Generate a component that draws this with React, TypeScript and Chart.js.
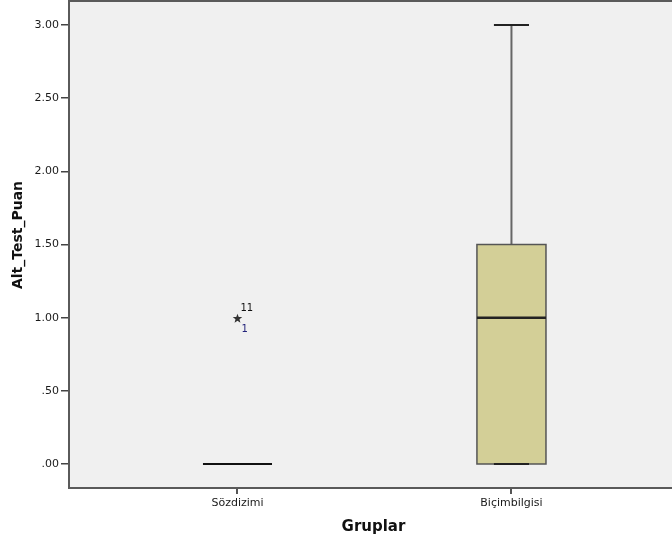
import React, { useEffect, useRef } from "react";
import { Chart, registerables } from "chart.js";

Chart.register(...registerables);

// ---- data ----
const categories = ["Sözdizimi", "Biçimbilgisi"];
const whiskerLow = [0, 0];
const q1 = [0, 0];
const median = [0, 1];
const q3 = [0, 1.5];
const whiskerHigh = [0, 3];
// extreme outliers: category index, value, case label
const outlierCat = [0, 0];
const outlierVal = [1, 1];
const outlierCase = ["11", "1"];
const yTicks = [0, 0.5, 1, 1.5, 2, 2.5, 3];
const yTitle = "Alt_Test_Puan";
const xTitle = "Gruplar";

const FONT = "'DejaVu Sans', 'Liberation Sans', sans-serif";

function fmt(v: number) {
  const s = v.toFixed(2);
  return s.startsWith("0.") ? s.slice(1) : s;
}

function drawStar(ctx: CanvasRenderingContext2D, cx: number, cy: number, r: number) {
  ctx.beginPath();
  for (let i = 0; i < 10; i++) {
    const rad = i % 2 === 0 ? r : r * 0.42;
    const a = -Math.PI / 2 + (i * Math.PI) / 5;
    const x = cx + rad * Math.cos(a);
    const y = cy + rad * Math.sin(a);
    if (i === 0) ctx.moveTo(x, y);
    else ctx.lineTo(x, y);
  }
  ctx.closePath();
  ctx.fill();
}

const boxPlugin = {
  id: "boxPlugin",
  beforeDatasetsDraw(chart: any) {
    const { ctx, chartArea } = chart;
    ctx.save();
    ctx.fillStyle = "#f0f0f0";
    ctx.fillRect(chartArea.left, chartArea.top, chartArea.right - chartArea.left, chartArea.bottom - chartArea.top);
    ctx.restore();
  },
  afterDatasetsDraw(chart: any) {
    const { ctx, chartArea } = chart;
    const xs = chart.scales.x;
    const ys = chart.scales.y;
    const halfBox = 0.126;
    const halfCap = 0.064;
    ctx.save();
    categories.forEach((_, i) => {
      const xc = xs.getPixelForValue(i);
      const xl = xs.getPixelForValue(i - halfBox);
      const xr = xs.getPixelForValue(i + halfBox);
      const cl = xs.getPixelForValue(i - halfCap);
      const cr = xs.getPixelForValue(i + halfCap);
      const yQ1 = ys.getPixelForValue(q1[i]);
      const yQ3 = ys.getPixelForValue(q3[i]);
      const yMed = ys.getPixelForValue(median[i]);
      const yLo = ys.getPixelForValue(whiskerLow[i]);
      const yHi = ys.getPixelForValue(whiskerHigh[i]);
      ctx.strokeStyle = "#666";
      ctx.lineWidth = 2;
      if (yHi < yQ3) {
        ctx.beginPath();
        ctx.moveTo(xc, yQ3);
        ctx.lineTo(xc, yHi);
        ctx.stroke();
      }
      if (yLo > yQ1) {
        ctx.beginPath();
        ctx.moveTo(xc, yQ1);
        ctx.lineTo(xc, yLo);
        ctx.stroke();
      }
      if (yQ1 - yQ3 > 0.5) {
        ctx.fillStyle = "#d3cf97";
        ctx.fillRect(xl, yQ3, xr - xl, yQ1 - yQ3);
        ctx.strokeStyle = "#555";
        ctx.lineWidth = 1.5;
        ctx.strokeRect(xl, yQ3, xr - xl, yQ1 - yQ3);
        ctx.strokeStyle = "#222";
        ctx.lineWidth = 2;
        ctx.beginPath();
        ctx.moveTo(cl, yHi);
        ctx.lineTo(cr, yHi);
        ctx.moveTo(cl, yLo);
        ctx.lineTo(cr, yLo);
        ctx.stroke();
        ctx.strokeStyle = "#222";
        ctx.lineWidth = 2.5;
        ctx.beginPath();
        ctx.moveTo(xl, yMed);
        ctx.lineTo(xr, yMed);
        ctx.stroke();
      } else {
        ctx.strokeStyle = "#111";
        ctx.lineWidth = 2;
        ctx.beginPath();
        ctx.moveTo(xl, yMed);
        ctx.lineTo(xr, yMed);
        ctx.stroke();
      }
    });
    const seen: Record<string, number> = {};
    outlierVal.forEach((v, k) => {
      const px = xs.getPixelForValue(outlierCat[k]);
      const py = ys.getPixelForValue(v);
      const key = outlierCat[k] + ":" + v;
      const n = seen[key] || 0;
      seen[key] = n + 1;
      ctx.fillStyle = "#333";
      if (n === 0) drawStar(ctx, px, py + 1, 5);
      ctx.font = "10px " + FONT;
      ctx.textBaseline = "middle";
      ctx.textAlign = "left";
      if (n === 0) {
        ctx.fillStyle = "#111";
        ctx.fillText(outlierCase[k], px + 3, py - 9);
      } else {
        ctx.fillStyle = "#22227a";
        ctx.fillText(outlierCase[k], px + 4, py + 12);
      }
    });
    ctx.strokeStyle = "#5a5a5a";
    ctx.lineWidth = 2;
    ctx.beginPath();
    ctx.moveTo(chartArea.right + 2, chartArea.top);
    ctx.lineTo(chartArea.left, chartArea.top);
    ctx.lineTo(chartArea.left, chartArea.bottom);
    ctx.lineTo(chartArea.right + 2, chartArea.bottom);
    ctx.stroke();
    ctx.fillStyle = "#111";
    ctx.textAlign = "center";
    ctx.textBaseline = "middle";
    ctx.font = "bold 15px " + FONT;
    ctx.fillText(xTitle, (chartArea.left + 672) / 2 + 3, 527);
    ctx.save();
    ctx.translate(18, 235);
    ctx.rotate(-Math.PI / 2);
    ctx.font = "bold 14px " + FONT;
    ctx.fillText(yTitle, 0, 0);
    ctx.restore();
    ctx.restore();
  },
};

export default function App() {
  const ref = useRef<HTMLCanvasElement>(null);
  useEffect(() => {
    if (!ref.current) return;
    const chart = new Chart(ref.current, {
      type: "scatter",
      data: {
        datasets: [
          {
            data: outlierVal.map((v, k) => ({ x: outlierCat[k], y: v })),
            pointRadius: 0,
            pointHoverRadius: 0,
          },
        ],
      },
      options: {
        animation: false,
        responsive: false,
        events: [],
        layout: { padding: { top: 1, left: 0, right: 0, bottom: 0 } },
        plugins: { legend: { display: false }, tooltip: { enabled: false } },
        scales: {
          x: {
            type: "linear",
            min: -0.615,
            max: 1.586,
            afterBuildTicks: (s: any) => {
              s.ticks = categories.map((_, i) => ({ value: i }));
            },
            afterFit: (s: any) => {
              s.height = 57;
              s.paddingLeft = 0;
              s.paddingRight = 0;
            },
            ticks: {
              autoSkip: false,
              maxRotation: 0,
              padding: 3,
              color: "#1a1a1a",
              font: { family: FONT, size: 11 },
              callback: (v: any) => categories[Number(v)] ?? "",
            },
            grid: { drawOnChartArea: false, drawTicks: true, tickLength: 6, color: "#555", lineWidth: 2 },
            border: { display: false },
          },
          y: {
            type: "linear",
            min: -0.164,
            max: 3.164,
            afterBuildTicks: (s: any) => {
              s.ticks = yTicks.map((v) => ({ value: v }));
            },
            afterFit: (s: any) => {
              s.width = 69;
              s.paddingTop = 0;
              s.paddingBottom = 0;
            },
            ticks: {
              padding: 2,
              color: "#1a1a1a",
              font: { family: FONT, size: 11 },
              callback: (v: any) => fmt(Number(v)),
            },
            grid: { drawOnChartArea: false, drawTicks: true, tickLength: 8, color: "#444", lineWidth: 1.5 },
            border: { display: false },
          },
        },
      },
      plugins: [boxPlugin],
    });
    return () => chart.destroy();
  }, []);
  return (
    <div style={{ position: "fixed", left: 0, top: 0, width: 672, height: 545, background: "#fff" }}>
      <canvas ref={ref} width={672} height={545} style={{ display: "block" }} />
    </div>
  );
}
